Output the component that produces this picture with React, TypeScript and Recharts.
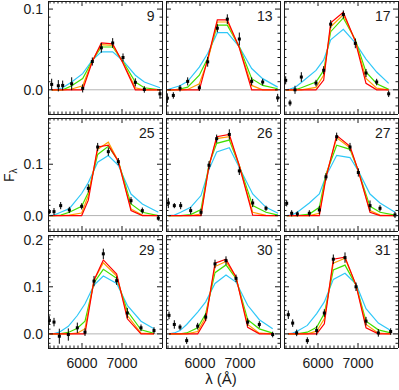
import React from "react";
import { ComposedChart, Line, Scatter, ErrorBar, XAxis, YAxis, ReferenceLine } from "recharts";

// axes
const LAMBDA_RANGE: [number, number] = [5150, 8000];
const X_MAJOR = [6000, 7000];
const X_MINOR_STEP = 100;
const Y_MIN = -0.03;
const ROW_Y_MAX = [0.11, 0.19, 0.21];
const ROW_Y_MAJOR = [[0, 0.1], [0, 0.1], [0, 0.1, 0.2]];

// panel 9
const P9_WAVE = [5242, 5408, 5517, 5742, 6017, 6258, 6483, 6767, 7025, 7333, 7558, 7950];
const P9_FLUX = [0.0067, 0.005, 0.0054, 0.0075, 0.0017, 0.035, 0.052, 0.058, 0.04, 0.0092, 0.0004, -0.005];
const P9_ERR = [0.007, 0.007, 0.006, 0.008, 0.005, 0.005, 0.006, 0.006, 0.005, 0.005, 0.004, 0.006];
const P9_RED = [0, 0, 0, 0, 0, 0.035, 0.058, 0.057, 0.033, 0, 0, 0];
const P9_ORANGE = [0, 0, 0, 0.001, 0.005, 0.036, 0.056, 0.055, 0.034, 0.0025, 0, 0];
const P9_GREEN = [0, 0, 0, 0.005, 0.014, 0.036, 0.053, 0.053, 0.035, 0.0095, 0.0025, 0];
const P9_CYAN = [0, 0.001, 0.0025, 0.0096, 0.02, 0.0367, 0.047, 0.047, 0.036, 0.018, 0.0096, 0.0025];

// panel 13
const P13_WAVE = [5183, 5333, 5500, 5692, 5983, 6192, 6433, 6683, 6983, 7292, 7567, 7942];
const P13_FLUX = [-0.0104, -0.007, 0.002, 0.0104, 0.0025, 0.0346, 0.0763, 0.0875, 0.0629, 0.0104, 0.0096, -0.01];
const P13_ERR = [0.006, 0.004, 0.004, 0.005, 0.004, 0.006, 0.005, 0.006, 0.008, 0.005, 0.004, 0.005];
const P13_RED = [0, 0, 0, 0, 0, 0.038, 0.0867, 0.0867, 0.052, 0, 0, 0];
const P13_ORANGE = [0, 0, 0, 0.0004, 0.0075, 0.036, 0.084, 0.084, 0.0525, 0.0054, 0, 0];
const P13_GREEN = [0, 0, 0.001, 0.0033, 0.018, 0.039, 0.08, 0.08, 0.0533, 0.0138, 0.0054, 0.0013];
const P13_CYAN = [0, 0.0025, 0.005, 0.0104, 0.028, 0.045, 0.0708, 0.0708, 0.0533, 0.0263, 0.0138, 0.0033];

// panel 17
const P17_WAVE = [5192, 5300, 5425, 5583, 5950, 6142, 6317, 6633, 6933, 7200, 7467, 7767];
const P17_FLUX = [0.0117, -0.0163, 0, 0.0158, 0.0083, 0.0242, 0.0813, 0.0933, 0.0575, 0.0208, 0.0096, -0.005];
const P17_ERR = [0.005, 0.004, 0.005, 0.006, 0.004, 0.005, 0.005, 0.005, 0.006, 0.005, 0.004, 0.004];
const P17_RED = [0, 0, 0, 0, 0, 0.012, 0.083, 0.096, 0.06, 0.008, 0, 0];
const P17_ORANGE = [0, 0, 0, 0, 0.003, 0.018, 0.078, 0.093, 0.061, 0.014, 0.002, 0];
const P17_GREEN = [0, 0, 0, 0.0025, 0.0096, 0.024, 0.072, 0.089, 0.062, 0.022, 0.0075, 0.0005];
const P17_CYAN = [0, 0.001, 0.003, 0.009, 0.024, 0.037, 0.062, 0.075, 0.058, 0.038, 0.022, 0.008];

// panel 25
const P25_WAVE = [5183, 5300, 5467, 5683, 5992, 6158, 6392, 6658, 6908, 7225, 7508, 7908];
const P25_FLUX = [0.0077, 0.0077, 0.0194, 0.011, 0.018, 0.053, 0.1335, 0.1245, 0.105, 0.029, 0.0097, -0.005];
const P25_ERR = [0.005, 0.007, 0.007, 0.006, 0.006, 0.008, 0.008, 0.008, 0.007, 0.007, 0.006, 0.005];
const P25_RED = [0, 0, 0, 0, 0, 0.03, 0.1335, 0.137, 0.106, 0.01, 0, 0];
const P25_ORANGE = [0, 0, 0, 0.001, 0.005, 0.039, 0.129, 0.143, 0.106, 0.013, 0.001, 0];
const P25_GREEN = [0, 0, 0.001, 0.0065, 0.018, 0.045, 0.119, 0.135, 0.106, 0.0226, 0.0065, 0];
const P25_CYAN = [0, 0.001, 0.0065, 0.0135, 0.043, 0.0645, 0.104, 0.117, 0.098, 0.042, 0.0226, 0.0065];

// panel 26 (no measurement at the last model wavelength)
const P26_WAVE = [5208, 5358, 5517, 5767, 6025, 6225, 6417, 6733, 6983, 7317, 7650, 7950];
const P26_FLUX = [0.0245, 0.0194, 0.0194, 0.0097, 0.0065, 0.098, 0.1497, 0.158, 0.087, 0.0245, 0.0142, null];
const P26_ERR = [0.01, 0.005, 0.007, 0.007, 0.007, 0.008, 0.008, 0.01, 0.008, 0.008, 0.005, null];
const P26_RED = [0, 0, 0, 0, 0, 0.097, 0.1535, 0.158, 0.097, 0.001, 0, 0];
const P26_ORANGE = [0, 0, 0, 0, 0.003, 0.097, 0.15, 0.1535, 0.097, 0.0065, 0.0005, 0];
const P26_GREEN = [0, 0, 0, 0.002, 0.0116, 0.1, 0.1406, 0.147, 0.097, 0.0194, 0.0065, 0.001];
const P26_CYAN = [0, 0.001, 0.0065, 0.016, 0.039, 0.09, 0.124, 0.132, 0.0935, 0.042, 0.016, 0.0045];

// panel 27
const P27_WAVE = [5217, 5342, 5483, 5783, 6033, 6200, 6467, 6800, 7008, 7300, 7550, 7925];
const P27_FLUX = [0.0239, 0.0045, 0.0032, 0.0045, 0.011, 0.0755, 0.1535, 0.1335, 0.0839, 0.0194, 0.0142, 0.0013];
const P27_ERR = [0.006, 0.006, 0.005, 0.006, 0.008, 0.007, 0.008, 0.008, 0.008, 0.01, 0.006, 0.006];
const P27_RED = [0, 0, 0, 0, 0, 0.074, 0.156, 0.135, 0.087, 0.0065, 0, 0];
const P27_ORANGE = [0, 0, 0, 0, 0.0045, 0.077, 0.1516, 0.132, 0.087, 0.0097, 0.001, 0];
const P27_GREEN = [0, 0, 0, 0.003, 0.016, 0.0806, 0.137, 0.129, 0.087, 0.018, 0.0065, 0.001];
const P27_CYAN = [0, 0.001, 0.0065, 0.0245, 0.042, 0.077, 0.1174, 0.113, 0.087, 0.042, 0.0245, 0.0065];

// panel 29
const P29_WAVE = [5183, 5300, 5433, 5658, 5883, 6075, 6300, 6533, 6867, 7133, 7475, 7800];
const P29_FLUX = [0.0286, 0.025, -0.005, -0.0014, 0.0129, 0.0036, 0.112, 0.17, 0.113, 0.0443, 0.0129, 0.0071];
const P29_ERR = [0.009, 0.009, 0.016, 0.013, 0.011, 0.008, 0.011, 0.011, 0.009, 0.011, 0.007, 0.007];
const P29_RED = [0, 0, 0, 0, 0, 0, 0.114, 0.157, 0.127, 0.032, 0, 0];
const P29_ORANGE = [0, 0, 0, 0, 0.0015, 0.011, 0.114, 0.151, 0.123, 0.039, 0.0015, 0];
const P29_GREEN = [0, 0, 0, 0.003, 0.012, 0.027, 0.1086, 0.137, 0.118, 0.0486, 0.0086, 0.001];
const P29_CYAN = [0, 0.0005, 0.0036, 0.016, 0.039, 0.064, 0.1036, 0.123, 0.107, 0.0607, 0.027, 0.011];

// panel 30
const P30_WAVE = [5225, 5358, 5500, 5667, 5942, 6142, 6375, 6650, 6900, 7192, 7483, 7817];
const P30_FLUX = [0.0393, 0.02, 0.0143, -0.0143, 0.0164, 0.0357, 0.1486, 0.1557, 0.1179, 0.025, 0.02, -0.0014];
const P30_ERR = [0.008, 0.009, 0.006, 0.007, 0.007, 0.008, 0.009, 0.009, 0.008, 0.008, 0.007, 0.006];
const P30_RED = [0, 0, 0, 0, 0, 0.0286, 0.15, 0.1586, 0.121, 0.014, 0, 0];
const P30_ORANGE = [0, 0, 0, 0, 0.005, 0.0357, 0.143, 0.1536, 0.12, 0.02, 0.0015, 0];
const P30_GREEN = [0, 0, 0, 0.002, 0.0129, 0.0429, 0.13, 0.1464, 0.118, 0.03, 0.0107, 0.0015];
const P30_CYAN = [0, 0.002, 0.007, 0.02, 0.0464, 0.068, 0.107, 0.125, 0.11, 0.0607, 0.03, 0.0107];

// panel 31
const P31_WAVE = [5258, 5367, 5467, 5733, 5967, 6158, 6383, 6675, 6950, 7200, 7508, 7817];
const P31_FLUX = [0.0407, 0.0229, 0.0021, -0.0143, 0.0071, 0.0443, 0.1586, 0.162, 0.1, 0.0271, 0.0021, 0.005];
const P31_ERR = [0.009, 0.008, 0.007, 0.007, 0.01, 0.008, 0.01, 0.011, 0.009, 0.009, 0.008, 0.007];
const P31_RED = [0, 0, 0, 0, 0, 0.0214, 0.1586, 0.163, 0.1036, 0.013, 0, 0];
const P31_ORANGE = [0, 0, 0, 0, 0.0057, 0.032, 0.15, 0.1607, 0.1036, 0.02, 0.0015, 0];
const P31_GREEN = [0, 0, 0, 0.0036, 0.014, 0.043, 0.1357, 0.146, 0.1036, 0.027, 0.0086, 0.002];
const P31_CYAN = [0, 0.0015, 0.005, 0.018, 0.043, 0.068, 0.1157, 0.1286, 0.106, 0.0536, 0.0229, 0.007];

type PanelData = {
  id: string;
  wave: number[];
  flux: (number | null)[];
  err: (number | null)[];
  red: number[];
  orange: number[];
  green: number[];
  cyan: number[];
};

const PANELS: PanelData[] = [
  { id: "9", wave: P9_WAVE, flux: P9_FLUX, err: P9_ERR, red: P9_RED, orange: P9_ORANGE, green: P9_GREEN, cyan: P9_CYAN },
  { id: "13", wave: P13_WAVE, flux: P13_FLUX, err: P13_ERR, red: P13_RED, orange: P13_ORANGE, green: P13_GREEN, cyan: P13_CYAN },
  { id: "17", wave: P17_WAVE, flux: P17_FLUX, err: P17_ERR, red: P17_RED, orange: P17_ORANGE, green: P17_GREEN, cyan: P17_CYAN },
  { id: "25", wave: P25_WAVE, flux: P25_FLUX, err: P25_ERR, red: P25_RED, orange: P25_ORANGE, green: P25_GREEN, cyan: P25_CYAN },
  { id: "26", wave: P26_WAVE, flux: P26_FLUX, err: P26_ERR, red: P26_RED, orange: P26_ORANGE, green: P26_GREEN, cyan: P26_CYAN },
  { id: "27", wave: P27_WAVE, flux: P27_FLUX, err: P27_ERR, red: P27_RED, orange: P27_ORANGE, green: P27_GREEN, cyan: P27_CYAN },
  { id: "29", wave: P29_WAVE, flux: P29_FLUX, err: P29_ERR, red: P29_RED, orange: P29_ORANGE, green: P29_GREEN, cyan: P29_CYAN },
  { id: "30", wave: P30_WAVE, flux: P30_FLUX, err: P30_ERR, red: P30_RED, orange: P30_ORANGE, green: P30_GREEN, cyan: P30_CYAN },
  { id: "31", wave: P31_WAVE, flux: P31_FLUX, err: P31_ERR, red: P31_RED, orange: P31_ORANGE, green: P31_GREEN, cyan: P31_CYAN },
];

// drawn back to front
const MODEL_SERIES: [keyof PanelData, string][] = [
  ["cyan", "#30c8f8"],
  ["green", "#40e000"],
  ["orange", "#ffa000"],
  ["red", "#ff0000"],
];

// layout
const COL_X = [48, 166, 284];
const ROW_Y = [1, 118, 235];
const PW = 114;
const PH = 113;
const LW = 44;
const RW = 2;
const TH = 2;
const BH = 26;

const INK = "#1a1a1a";
const FONT = "'Liberation Sans', Arial, Helvetica, sans-serif";
const MAJOR_LEN = 5;
const MINOR_LEN = 2.5;

const X_TICKS: number[] = [];
for (let v = 5200; v < LAMBDA_RANGE[1]; v += X_MINOR_STEP) X_TICKS.push(v);

function yTicks(row: number) {
  const out: number[] = [];
  const top = Math.round(ROW_Y_MAX[row] * 100);
  for (let k = Math.round(Y_MIN * 100) + 1; k < top; k++) out.push(k / 100);
  return out;
}

const isMajorY = (row: number, v: number) => ROW_Y_MAJOR[row].some((m) => Math.abs(m - v) < 1e-9);

const frameLine = { stroke: INK, strokeWidth: 1, shapeRendering: "crispEdges" };

function Panel({ panel, col, row }: { panel: PanelData; col: number; row: number }) {
  const points = panel.wave
    .map((w, i) => ({ w, f: panel.flux[i], err: panel.err[i] }))
    .filter((p) => p.f !== null);
  const model = panel.wave.map((w, i) => ({
    w,
    red: panel.red[i],
    orange: panel.orange[i],
    green: panel.green[i],
    cyan: panel.cyan[i],
  }));
  const yDomain: [number, number] = [Y_MIN, ROW_Y_MAX[row]];
  const yt = yTicks(row);
  const showY = col === 0;
  const showX = row === 2;

  const bottomTick = (p: any) => {
    const major = X_MAJOR.includes(p.payload.value);
    return (
      <g>
        <line x1={p.x} y1={p.y} x2={p.x} y2={p.y - (major ? MAJOR_LEN : MINOR_LEN)} stroke={INK} />
        {major && showX && (
          <text x={p.x} y={p.y + 20} textAnchor="middle" fontSize={14} fontFamily={FONT} fill={INK}>
            {p.payload.value}
          </text>
        )}
      </g>
    );
  };
  const topTick = (p: any) => {
    const major = X_MAJOR.includes(p.payload.value);
    return <line x1={p.x} y1={p.y} x2={p.x} y2={p.y + (major ? MAJOR_LEN : MINOR_LEN)} stroke={INK} />;
  };
  const leftTick = (p: any) => {
    const major = isMajorY(row, p.payload.value);
    return (
      <g>
        <line x1={p.x} y1={p.y} x2={p.x + (major ? MAJOR_LEN : MINOR_LEN)} y2={p.y} stroke={INK} />
        {major && showY && (
          <text x={p.x - 5} y={p.y} dy="0.36em" textAnchor="end" fontSize={14} fontFamily={FONT} fill={INK}>
            {p.payload.value.toFixed(1)}
          </text>
        )}
      </g>
    );
  };
  const rightTick = (p: any) => {
    const major = isMajorY(row, p.payload.value);
    return <line x1={p.x} y1={p.y} x2={p.x - (major ? MAJOR_LEN : MINOR_LEN)} y2={p.y} stroke={INK} />;
  };

  const square = (p: any) => <rect x={p.cx - 1.5} y={p.cy - 1.5} width={3} height={3} fill="#000" />;

  return (
    <div style={{ position: "absolute", left: COL_X[col] - LW, top: ROW_Y[row] - TH }}>
      <ComposedChart width={LW + PW + RW} height={TH + PH + BH} margin={{ top: 0, right: 0, bottom: 0, left: 0 }}>
        <XAxis
          dataKey="w"
          type="number"
          domain={LAMBDA_RANGE}
          allowDataOverflow
          ticks={X_TICKS}
          interval={0}
          height={BH}
          tickSize={0}
          tickMargin={0}
          tickLine={false}
          axisLine={frameLine}
          tick={bottomTick}
        />
        <XAxis
          xAxisId="top"
          orientation="top"
          dataKey="w"
          type="number"
          domain={LAMBDA_RANGE}
          allowDataOverflow
          ticks={X_TICKS}
          interval={0}
          height={TH}
          tickSize={0}
          tickMargin={0}
          tickLine={false}
          axisLine={frameLine}
          tick={topTick}
        />
        <YAxis
          type="number"
          domain={yDomain}
          allowDataOverflow
          ticks={yt}
          interval={0}
          width={LW}
          tickSize={0}
          tickMargin={0}
          tickLine={false}
          axisLine={frameLine}
          tick={leftTick}
        />
        <YAxis
          yAxisId="right"
          orientation="right"
          type="number"
          domain={yDomain}
          allowDataOverflow
          ticks={yt}
          interval={0}
          width={RW}
          tickSize={0}
          tickMargin={0}
          tickLine={false}
          axisLine={frameLine}
          tick={rightTick}
        />
        <ReferenceLine y={0} stroke="#b4b4b4" strokeWidth={1} />
        {MODEL_SERIES.map(([key, color]) => (
          <Line
            key={key}
            data={model}
            dataKey={key}
            type="linear"
            stroke={color}
            strokeWidth={1.2}
            dot={false}
            activeDot={false}
            isAnimationActive={false}
          />
        ))}
        <Scatter data={points} dataKey="f" shape={square} isAnimationActive={false}>
          <ErrorBar dataKey="err" direction="y" width={0} stroke="#000" strokeWidth={1} isAnimationActive={false} />
        </Scatter>
      </ComposedChart>
    </div>
  );
}

export default function App() {
  return (
    <div
      style={{
        position: "absolute",
        left: 0,
        top: 0,
        width: 399,
        height: 390,
        overflow: "hidden",
        background: "#fff",
        fontFamily: FONT,
      }}
    >
      {PANELS.map((panel, i) => (
        <Panel key={panel.id} panel={panel} col={i % 3} row={Math.floor(i / 3)} />
      ))}
      <svg width={399} height={390} style={{ position: "absolute", left: 0, top: 0, pointerEvents: "none" }}>
        {PANELS.map((panel, i) => (
          <text
            key={panel.id}
            x={COL_X[i % 3] + PW - 7.5}
            y={ROW_Y[Math.floor(i / 3)] + 20}
            textAnchor="end"
            fontSize={14}
            fontFamily={FONT}
            fill={INK}
          >
            {panel.id}
          </text>
        ))}
        <text transform="translate(13.5,182) rotate(-90)" fontSize={14} fontFamily={FONT} fill={INK}>
          F
          <tspan dy={3} fontSize={10}>
            λ
          </tspan>
        </text>
        <text x={221} y={384} textAnchor="middle" fontSize={15} fontFamily={FONT} fill={INK}>
          λ (Å)
        </text>
      </svg>
    </div>
  );
}
